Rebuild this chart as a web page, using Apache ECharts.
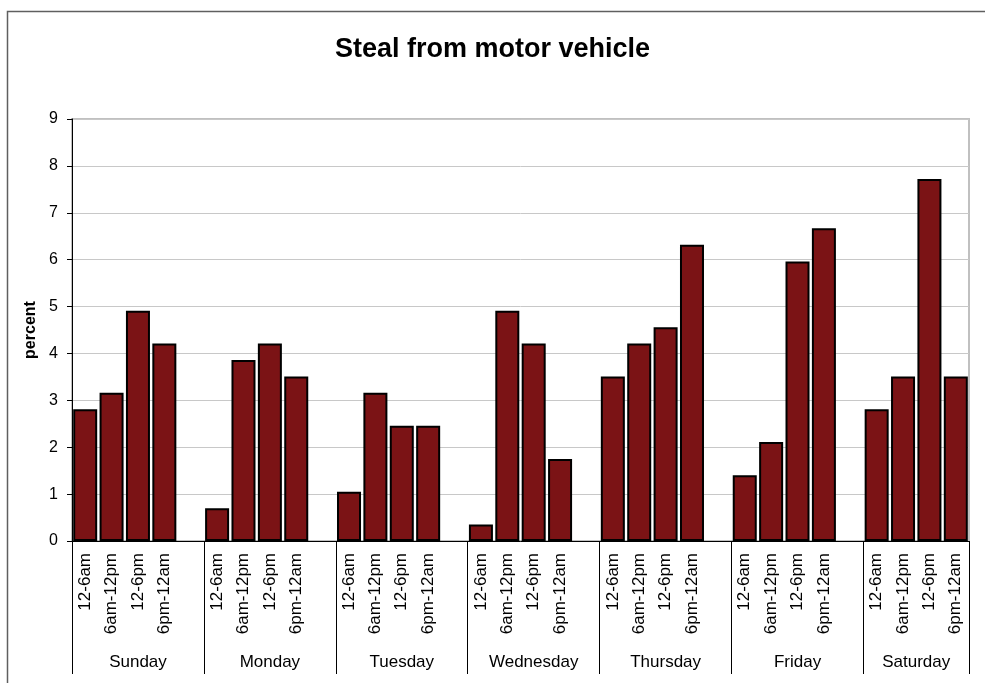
<!DOCTYPE html>
<html>
<head>
<meta charset="utf-8">
<script src="https://cdn.jsdelivr.net/npm/echarts@6/dist/echarts.min.js"></script>
<style>
  html, body { margin: 0; padding: 0; background: #fff; }
  #main { width: 985px; height: 683px; }
</style>
</head>
<body>
<div id="main"></div>
<script>
var days = ['Sunday', 'Monday', 'Tuesday', 'Wednesday', 'Thursday', 'Friday', 'Saturday'];
var periods = ['12-6am', '6am-12pm', '12-6pm', '6pm-12am'];

var sunday    = [2.81, 3.16, 4.91, 4.21];
var monday    = [0.70, 3.86, 4.21, 3.51];
var tuesday   = [1.05, 3.16, 2.46, 2.46];
var wednesday = [0.35, 4.91, 4.21, 1.75];
var thursday  = [3.51, 4.21, 4.56, 6.32];
var friday    = [1.40, 2.11, 5.96, 6.67];
var saturday  = [2.81, 3.51, 7.72, 3.51];

var yTicks = [0, 1, 2, 3, 4, 5, 6, 7, 8, 9];

var dayValues = [sunday, monday, tuesday, wednesday, thursday, friday, saturday];

// flatten into category slots, with an empty slot between days
var cats = [];
var vals = [];
var dayBounds = [];
var dayCenters = [];
var dayAt = {};
dayValues.forEach(function (arr, d) {
    var start = cats.length;
    dayBounds.push(start);
    arr.forEach(function (v, i) {
        cats.push(periods[i]);
        vals.push(v);
    });
    var span = periods.length;
    if (d < days.length - 1) {
        cats.push('');
        vals.push(null);
        span += 1;
    }
    var c = start + span / 2;
    dayCenters.push(c);
    dayAt[c] = days[d];
});
dayBounds.push(cats.length);

var font = 'Liberation Sans, Arial, sans-serif';

var chart = echarts.init(document.getElementById('main'));

var option = {
    backgroundColor: '#fff',
    animation: false,
    title: {
        text: 'Steal from motor vehicle',
        left: 'center',
        top: 31,
        textStyle: {
            fontFamily: font,
            fontSize: 27,
            fontWeight: 'bold',
            color: '#000'
        }
    },
    graphic: [{
        type: 'rect',
        shape: { x: 7.5, y: 11.5, width: 1000, height: 700 },
        style: { fill: null, stroke: '#5f5f5f', lineWidth: 1.5 },
        z: -1
    }],
    grid: {
        left: 72,
        right: 16,
        top: 119,
        bottom: 142,
        show: true,
        borderColor: '#c0c0c0',
        borderWidth: 2
    },
    xAxis: [{
        type: 'category',
        data: cats,
        boundaryGap: true,
        axisLine: { lineStyle: { color: '#000', width: 1 } },
        axisTick: {
            interval: 0,
            length: 98,
            lineStyle: { color: '#000', width: 1 }
        },
        axisLabel: {
            interval: 0,
            rotate: 90,
            margin: 12,
            fontFamily: font,
            fontSize: 17,
            color: '#000'
        }
    }, {
        type: 'value',
        position: 'bottom',
        min: 0,
        max: cats.length,
        axisLine: { show: false },
        splitLine: { show: false },
        axisTick: {
            show: true,
            customValues: dayBounds,
            length: 133,
            lineStyle: { color: '#000', width: 1 }
        },
        axisLabel: {
            customValues: dayCenters,
            margin: 113,
            fontFamily: font,
            fontSize: 17,
            color: '#000',
            formatter: function (v) { return dayAt[v] || ''; }
        }
    }],
    yAxis: {
        type: 'value',
        min: yTicks[0],
        max: yTicks[yTicks.length - 1],
        interval: 1,
        name: 'percent',
        nameLocation: 'middle',
        nameRotate: 90,
        nameGap: 30,
        nameTextStyle: {
            fontFamily: font,
            fontSize: 16,
            fontWeight: 'bold',
            color: '#000'
        },
        axisLine: { show: true, lineStyle: { color: '#000', width: 1 } },
        axisTick: { show: true, length: 5, lineStyle: { color: '#000' } },
        axisLabel: {
            margin: 14,
            fontFamily: font,
            fontSize: 16,
            color: '#000'
        },
        splitLine: { lineStyle: { color: '#c8c8c8', width: 1 } }
    },
    series: [{
        type: 'bar',
        xAxisIndex: 0,
        data: vals,
        barCategoryGap: '9%',
        itemStyle: {
            color: '#7b1315',
            borderColor: '#000',
            borderWidth: 2
        }
    }]
};

chart.setOption(option);
</script>
</body>
</html>
